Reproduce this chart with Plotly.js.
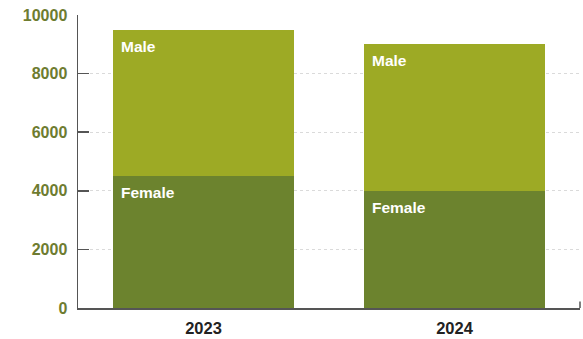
<!DOCTYPE html>
<html><head><meta charset="utf-8">
<script src="https://cdn.plot.ly/plotly-3.0.1.min.js"></script>
<style>html,body{margin:0;padding:0;background:#fff;}#chart{width:583px;height:339px;}</style>
</head><body><div id="chart"></div>
<script>
const years = ['2023', '2024'];
const female = [4500, 4000];
const male = [5000, 5000];
const seriesNames = ['Female', 'Male'];
const yTicks = [0, 2000, 4000, 6000, 8000, 10000];

const FONT = '"Liberation Sans", Arial, sans-serif';
const colors = ['#6c832e', '#9daa25'];
const barWidth = 0.72;

const traces = [female, male].map((vals, i) => ({
  type: 'bar', x: years, y: vals, name: seriesNames[i],
  width: barWidth, marker: {color: colors[i], line: {width: 0}},
  hoverinfo: 'skip'
}));

const annotations = [];
years.forEach((yr, j) => {
  let base = 0;
  [female, male].forEach((vals, i) => {
    base += vals[j];
    annotations.push({
      x: j, y: base, xref: 'x', yref: 'y', text: '<b>' + seriesNames[i] + '</b>',
      showarrow: false, xanchor: 'left', yanchor: 'top',
      xshift: -85, yshift: -6,
      font: {family: FONT, size: 15.5, color: '#ffffff'}
    });
  });
});

const layout = {
  width: 583, height: 339,
  margin: {l: 78, r: 3, t: 15, b: 31, pad: 0},
  barmode: 'stack', showlegend: false,
  paper_bgcolor: '#ffffff', plot_bgcolor: '#ffffff',
  xaxis: {
    type: 'category', range: [-0.5, 1.5],
    showline: true, linecolor: '#555555', linewidth: 1.5,
    ticks: '', showgrid: false, zeroline: false,
    tickfont: {family: FONT, size: 16.5, color: '#222222', weight: 'bold'},
    ticklabelstandoff: 5
  },
  yaxis: {
    range: [0, 10000], tickvals: yTicks, ticktext: yTicks.map(String),
    showline: true, linecolor: '#555555', linewidth: 1.5,
    ticks: 'inside', ticklen: 11, tickcolor: '#555555', tickwidth: 1.5,
    showgrid: true, gridcolor: '#dadada', griddash: 'dot', gridwidth: 1,
    zeroline: false,
    tickfont: {family: FONT, size: 16, color: '#6e7c30', weight: 'bold'},
    ticklabelstandoff: 6
  },
  shapes: [{type: 'line', xref: 'paper', yref: 'paper', x0: 1, x1: 1, y0: 0, y1: 0.022,
            line: {color: '#555555', width: 1.5}}],
  annotations: annotations
};

Plotly.newPlot('chart', traces, layout, {staticPlot: true, displayModeBar: false});
</script></body></html>
